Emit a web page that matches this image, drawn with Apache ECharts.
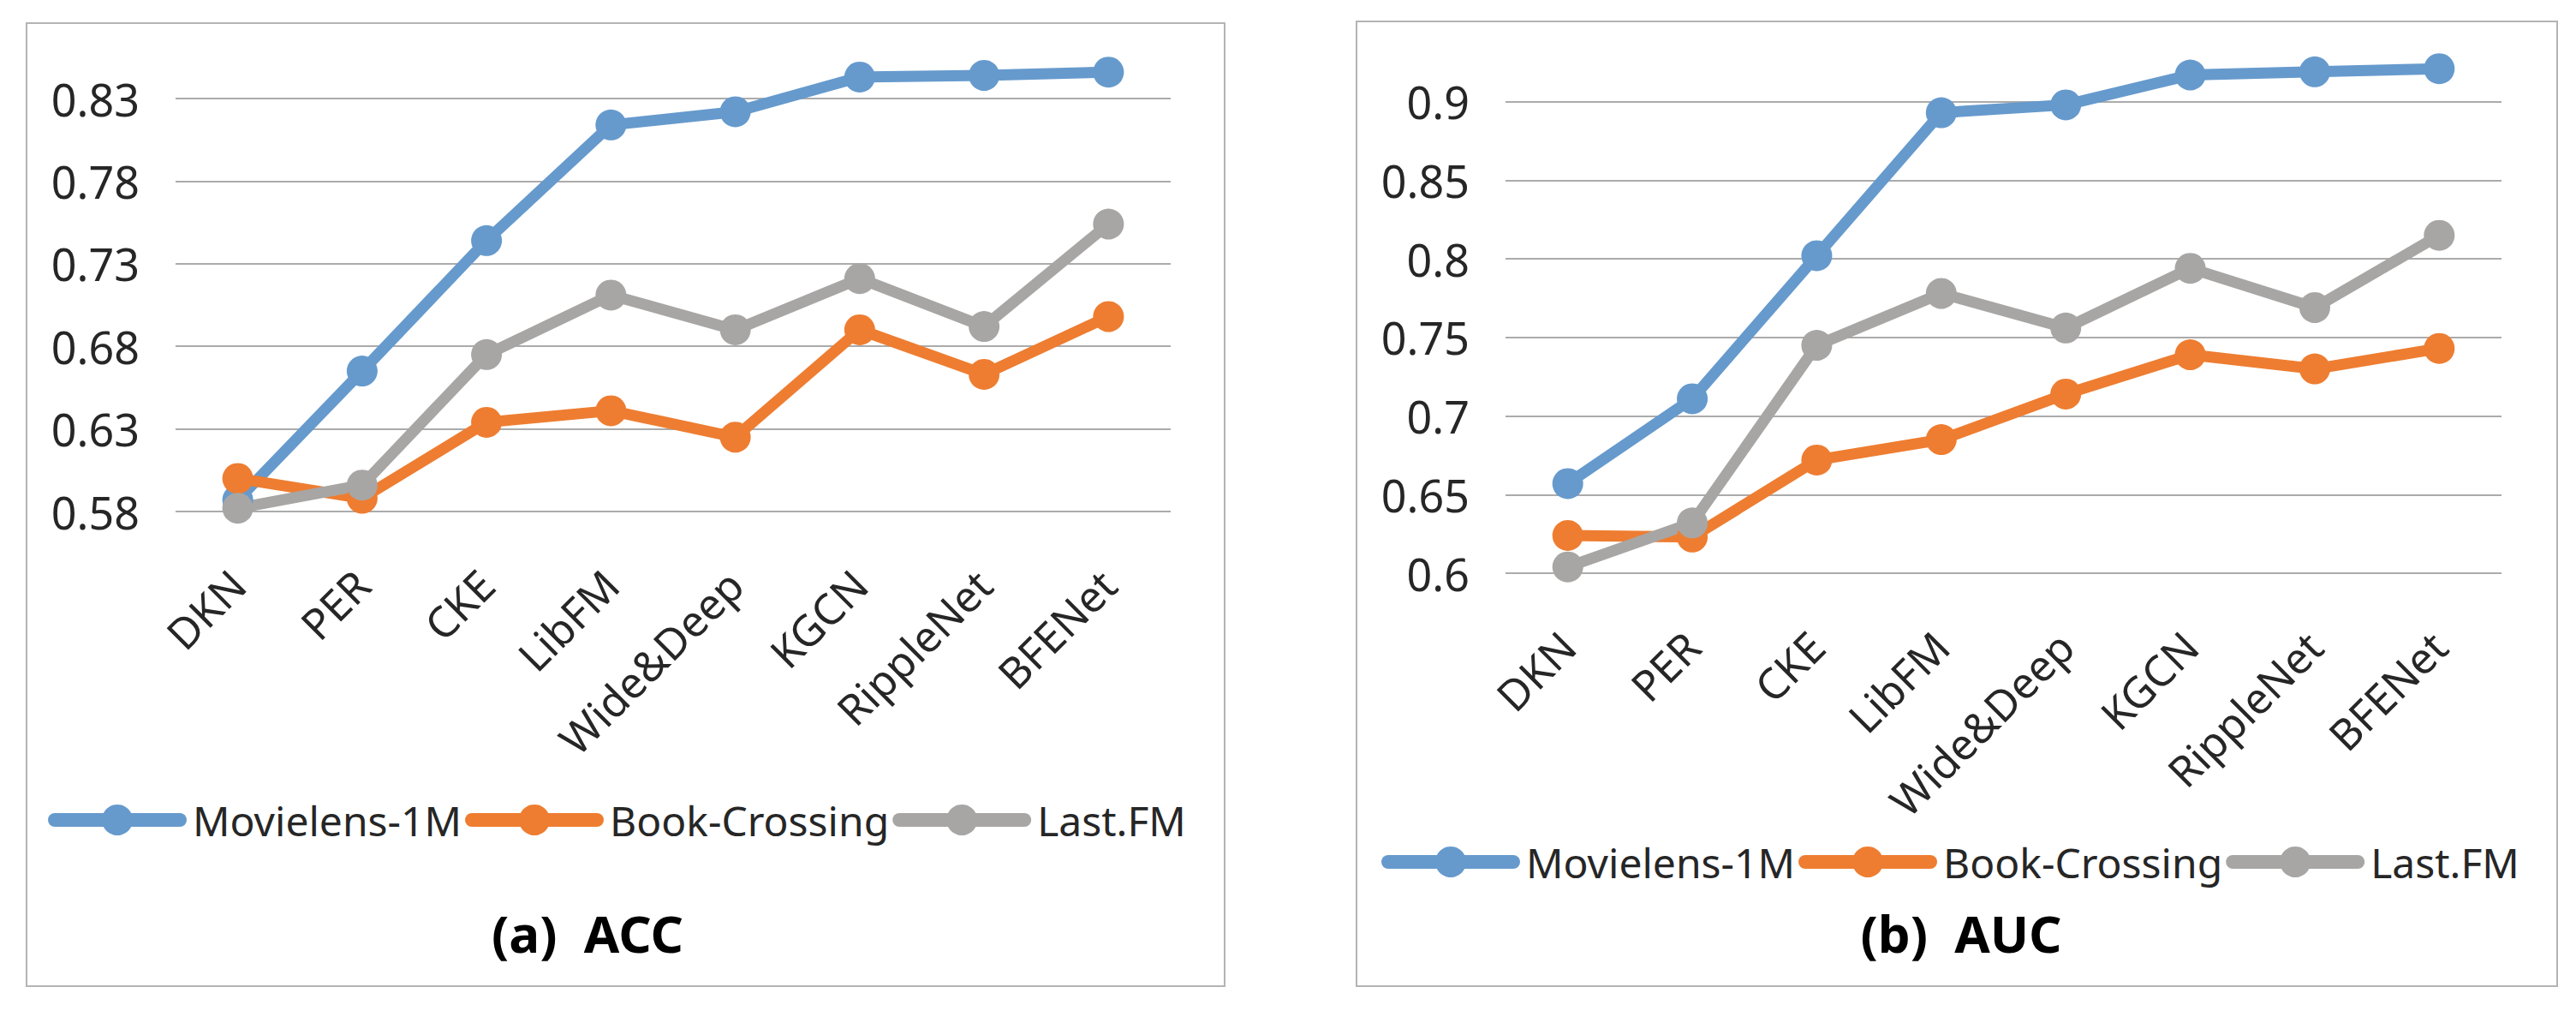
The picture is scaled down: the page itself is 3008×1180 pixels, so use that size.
<!DOCTYPE html>
<html><head><meta charset="utf-8">
<script src="https://cdn.jsdelivr.net/npm/echarts@6/dist/echarts.min.js"></script>
<style>html,body{margin:0;padding:0;background:#fff}#c{width:3008px;height:1180px}</style>
</head><body><div id="c"></div>
<script>
const categories = ['DKN','PER','CKE','LibFM','Wide&Deep','KGCN','RippleNet','BFENet'];
const seriesNames = ['Movielens-1M','Book-Crossing','Last.FM'];
const accMovielens = [0.587,0.665,0.744,0.814,0.822,0.843,0.844,0.846];
const accBook      = [0.600,0.588,0.634,0.641,0.625,0.690,0.663,0.698];
const accLastFM    = [0.582,0.596,0.675,0.711,0.690,0.721,0.692,0.754];
const aucMovielens = [0.657,0.711,0.802,0.893,0.898,0.917,0.919,0.921];
const aucBook      = [0.624,0.623,0.672,0.685,0.714,0.739,0.730,0.743];
const aucLastFM    = [0.604,0.632,0.745,0.778,0.756,0.794,0.769,0.815];
const accTicks = [0.58,0.63,0.68,0.73,0.78,0.83];
const aucTicks = [0.6,0.65,0.7,0.75,0.8,0.85,0.9];
const panelTitles = ['(a)  ACC','(b)  AUC'];

const colors = ['#669ACD','#EE7D31','#A8A6A4'];
const FONT = '"Noto Sans", "DejaVu Sans", sans-serif';
const TXT = '#262626';

function step(t){ return Math.round((t[1]-t[0])*1000)/1000; }

function xAxis(gi){
  return {type:'category', gridIndex:gi, data:categories,
    axisLine:{show:false}, axisTick:{show:false},
    axisLabel:{rotate:45, margin:77, fontSize:50, color:TXT, fontFamily:FONT, interval:0}};
}
function yAxis(gi, ticks){
  const iv = step(ticks);
  return {type:'value', gridIndex:gi, min:ticks[0], max:Math.round((ticks[ticks.length-1]+iv)*1000)/1000, interval:iv,
    axisLine:{show:false}, axisTick:{show:false},
    axisLabel:{showMaxLabel:false, margin:42, fontSize:52, color:TXT, fontFamily:FONT},
    splitLine:{show:true, showMaxLine:false, lineStyle:{color:'#ABABAB', width:2}}};
}
function line(name, data, gi, ci){
  return {type:'line', name, data, xAxisIndex:gi, yAxisIndex:gi,
    symbol:'circle', symbolSize:36, clip:false,
    lineStyle:{width:13, color:colors[ci], cap:'round', join:'round'},
    itemStyle:{color:colors[ci]}, emphasis:{disabled:true}, animation:false};
}
function legend(left, top){
  return {left, top, width:1450, orient:'horizontal', itemWidth:146, itemHeight:45, itemGap:4,
    data:seriesNames, selectedMode:false,
    lineStyle:{width:16},
    textStyle:{fontSize:48, color:TXT, fontFamily:FONT, padding:[0,0,0,10]}};
}

const chart = echarts.init(document.getElementById('c'), null, {renderer:'svg'});
chart.setOption({
  backgroundColor:'#ffffff',
  animation:false,
  grid:[{left:205, top:18.6, width:1162, height:578.4},
        {left:1758, top:27, width:1163, height:642}],
  xAxis:[xAxis(0), xAxis(1)],
  yAxis:[yAxis(0, accTicks), yAxis(1, aucTicks)],
  legend:[legend(51, 928), legend(1608, 977)],
  series:[
    line(seriesNames[0], accMovielens, 0, 0),
    line(seriesNames[1], accBook, 0, 1),
    line(seriesNames[2], accLastFM, 0, 2),
    line(seriesNames[0], aucMovielens, 1, 0),
    line(seriesNames[1], aucBook, 1, 1),
    line(seriesNames[2], aucLastFM, 1, 2)
  ],
  graphic:[
    {type:'rect', silent:true, shape:{x:31, y:27, width:1399, height:1124},
      style:{fill:'none', stroke:'#B4B4B4', lineWidth:2}},
    {type:'rect', silent:true, shape:{x:1584, y:25, width:1402, height:1126},
      style:{fill:'none', stroke:'#B4B4B4', lineWidth:2}},
    {type:'text', silent:true, x:686, y:1089,
      style:{text:panelTitles[0], fontSize:60, fontWeight:'bold', fontFamily:FONT, fill:'#000',
        align:'center', verticalAlign:'middle'}},
    {type:'text', silent:true, x:2290, y:1089,
      style:{text:panelTitles[1], fontSize:60, fontWeight:'bold', fontFamily:FONT, fill:'#000',
        align:'center', verticalAlign:'middle'}}
  ]
});
</script></body></html>
